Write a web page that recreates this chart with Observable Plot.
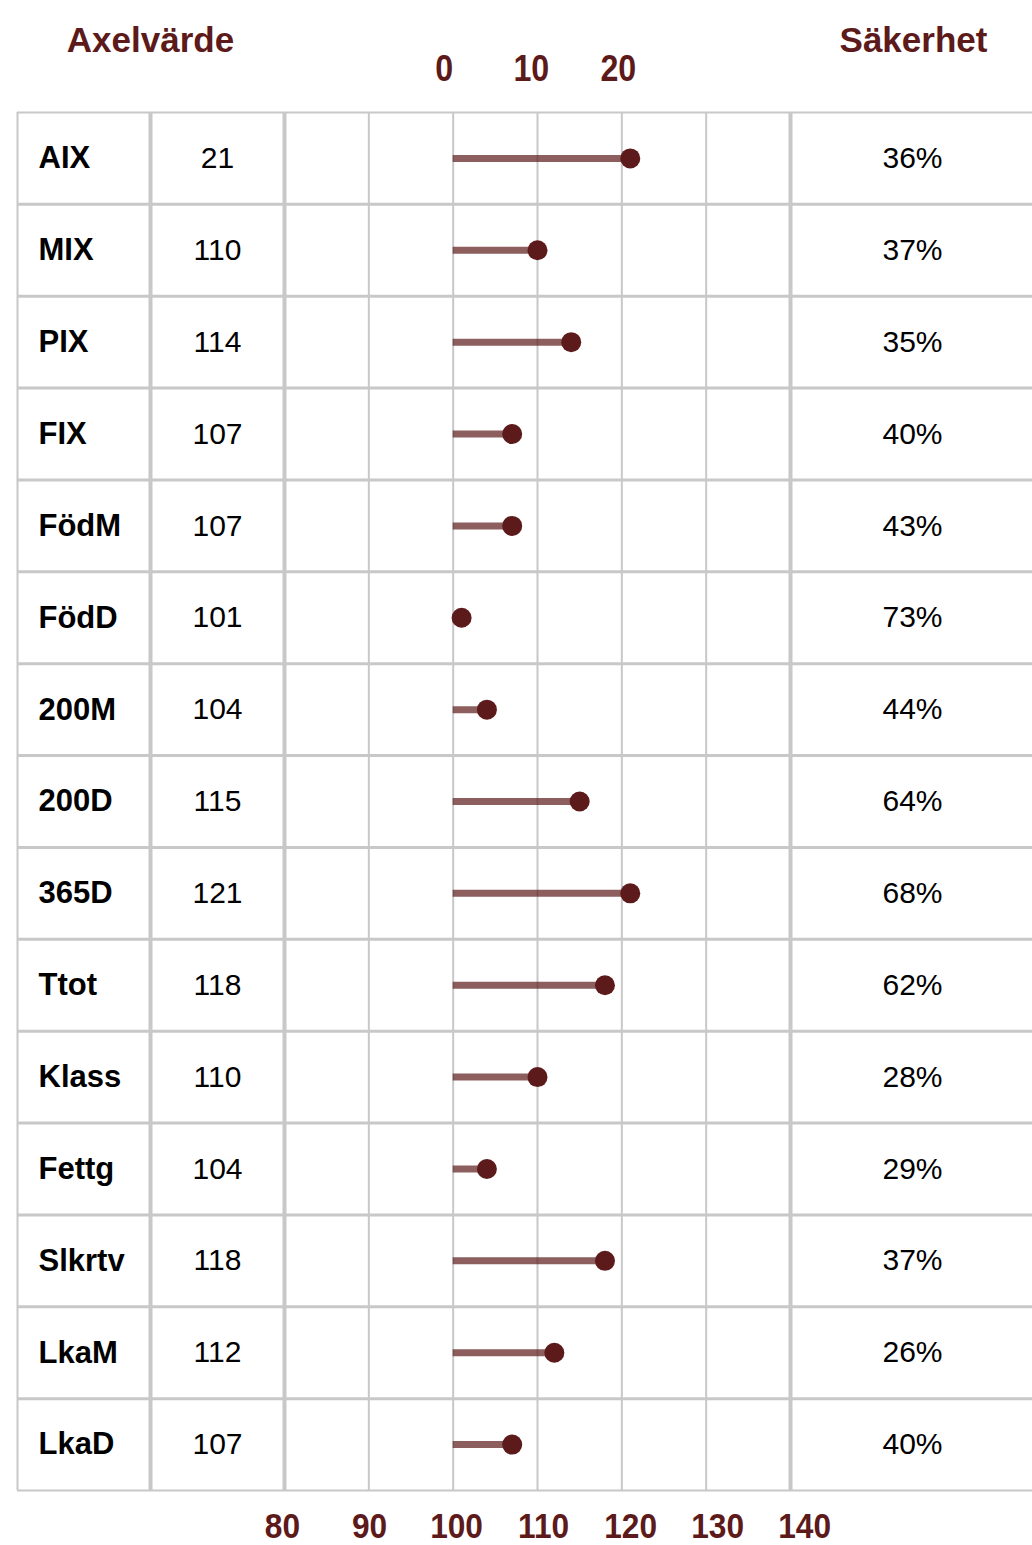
<!DOCTYPE html>
<html>
<head>
<meta charset="utf-8">
<script src="https://cdn.jsdelivr.net/npm/d3@7"></script>
<script src="https://cdn.jsdelivr.net/npm/@observablehq/plot@0.6"></script>
<style>
  html, body { margin: 0; padding: 0; background: #fff; }
  #chart svg { display: block; }
</style>
</head>
<body>
<div id="chart"></div>
<script>
const names = ["AIX", "MIX", "PIX", "FIX", "FödM", "FödD", "200M", "200D", "365D", "Ttot", "Klass", "Fettg", "Slkrtv", "LkaM", "LkaD"];
const values = [21, 110, 114, 107, 107, 101, 104, 115, 121, 118, 110, 104, 118, 112, 107];
const certainty = [36, 37, 35, 40, 43, 73, 44, 64, 68, 62, 28, 29, 37, 26, 40];
const bottomTicks = [80, 90, 100, 110, 120, 130, 140];
const topTicks = [0, 10, 20];
const baseValue = 100;
const headers = {left: "Axelvärde", right: "Säkerhet"};

const rows = names.map((name, i) => ({
  name,
  value: values[i],
  pct: certainty[i],
  plotted: name === "AIX" ? baseValue + values[i] : values[i],
  row: i + 0.5
}));
const rowEdges = d3.range(0, names.length + 1);
const innerEdges = rowEdges.slice(1, -1);
const outerEdges = [rowEdges[0], rowEdges[rowEdges.length - 1]];

const dark = "#5c1a1a";
const grid = "#c8c8c8";
const font = "'Liberation Sans', Arial, Helvetica, sans-serif";

const chart = Plot.plot({
  width: 1032,
  height: 1545,
  marginLeft: 284,
  marginRight: 242,
  marginTop: 112,
  marginBottom: 55,
  x: {domain: [80, 140], axis: null},
  y: {domain: [0, names.length], reverse: true, axis: null},
  marks: [
    Plot.ruleX([90, 100, 110, 120, 130], {stroke: grid, strokeWidth: 2}),
    Plot.ruleX([80, 140], {stroke: grid, strokeWidth: 4}),
    Plot.ruleX([80], {stroke: grid, strokeWidth: 4, dx: -134}),
    Plot.ruleX([80], {stroke: grid, strokeWidth: 2, dx: -267}),
    Plot.ruleY(innerEdges, {y: d => d, stroke: grid, strokeWidth: 3, insetLeft: -267, insetRight: -242}),
    Plot.ruleY(outerEdges, {y: d => d, stroke: grid, strokeWidth: 2, insetLeft: -267, insetRight: -242}),
    Plot.ruleY(rows, {y: "row", x1: () => baseValue, x2: "plotted", stroke: dark, strokeOpacity: 0.7, strokeWidth: 7}),
    Plot.dot(rows, {y: "row", x: "plotted", r: 10, fill: dark}),
    Plot.text(rows, {y: "row", text: "name", frameAnchor: "left", dx: -246, textAnchor: "start", lineAnchor: "middle",
      fontFamily: font, fontWeight: "bold", fontSize: 31, fill: "#000"}),
    Plot.text(rows, {y: "row", text: d => String(d.value), frameAnchor: "left", dx: -67, textAnchor: "middle", lineAnchor: "middle",
      fontFamily: font, fontSize: 30, fill: "#000"}),
    Plot.text(rows, {y: "row", text: d => d.pct + "%", frameAnchor: "right", dx: 122, textAnchor: "middle", lineAnchor: "middle",
      fontFamily: font, fontSize: 30, fill: "#000"}),
    Plot.text([headers.left], {frameAnchor: "top-left", dx: -134, dy: -72, text: d => d, textAnchor: "middle", lineAnchor: "middle",
      fontFamily: font, fontWeight: "bold", fontSize: 35, fill: dark}),
    Plot.text([headers.right], {frameAnchor: "top-right", dx: 123, dy: -72, text: d => d, textAnchor: "middle", lineAnchor: "middle",
      fontFamily: font, fontWeight: "bold", fontSize: 35, fill: dark}),
    Plot.text(topTicks, {x: d => baseValue - 1.05 + d * 1.032, frameAnchor: "top", dy: -43, text: d => String(d),
      textAnchor: "middle", lineAnchor: "middle",
      fontFamily: font, fontWeight: "bold", fontSize: 37, fill: dark}),
    Plot.text(bottomTicks, {x: d => d + (d - 100) * 0.032 + 0.4, frameAnchor: "bottom", dy: 36, text: d => String(d),
      textAnchor: "middle", lineAnchor: "middle",
      fontFamily: font, fontWeight: "bold", fontSize: 36, fill: dark})
  ]
});
// condensed look for the axis numbers (horizontal squeeze only)
function squeeze(selector, k) {
  d3.select(chart).selectAll(selector).each(function() {
    const t = this.getAttribute("transform") || "";
    const xa = this.getAttribute("x");
    const ok = xa !== null && !isNaN(+xa);
    const x = ok ? +xa : 0;
    if (ok) this.removeAttribute("x");
    this.setAttribute("transform", `${t} translate(${x},0) scale(${k},1)`);
  });
}
squeeze("g[font-size='37'] text", 0.87);
squeeze("g[font-size='36'] text", 0.88);
document.getElementById("chart").appendChild(chart);
</script>
</body>
</html>
